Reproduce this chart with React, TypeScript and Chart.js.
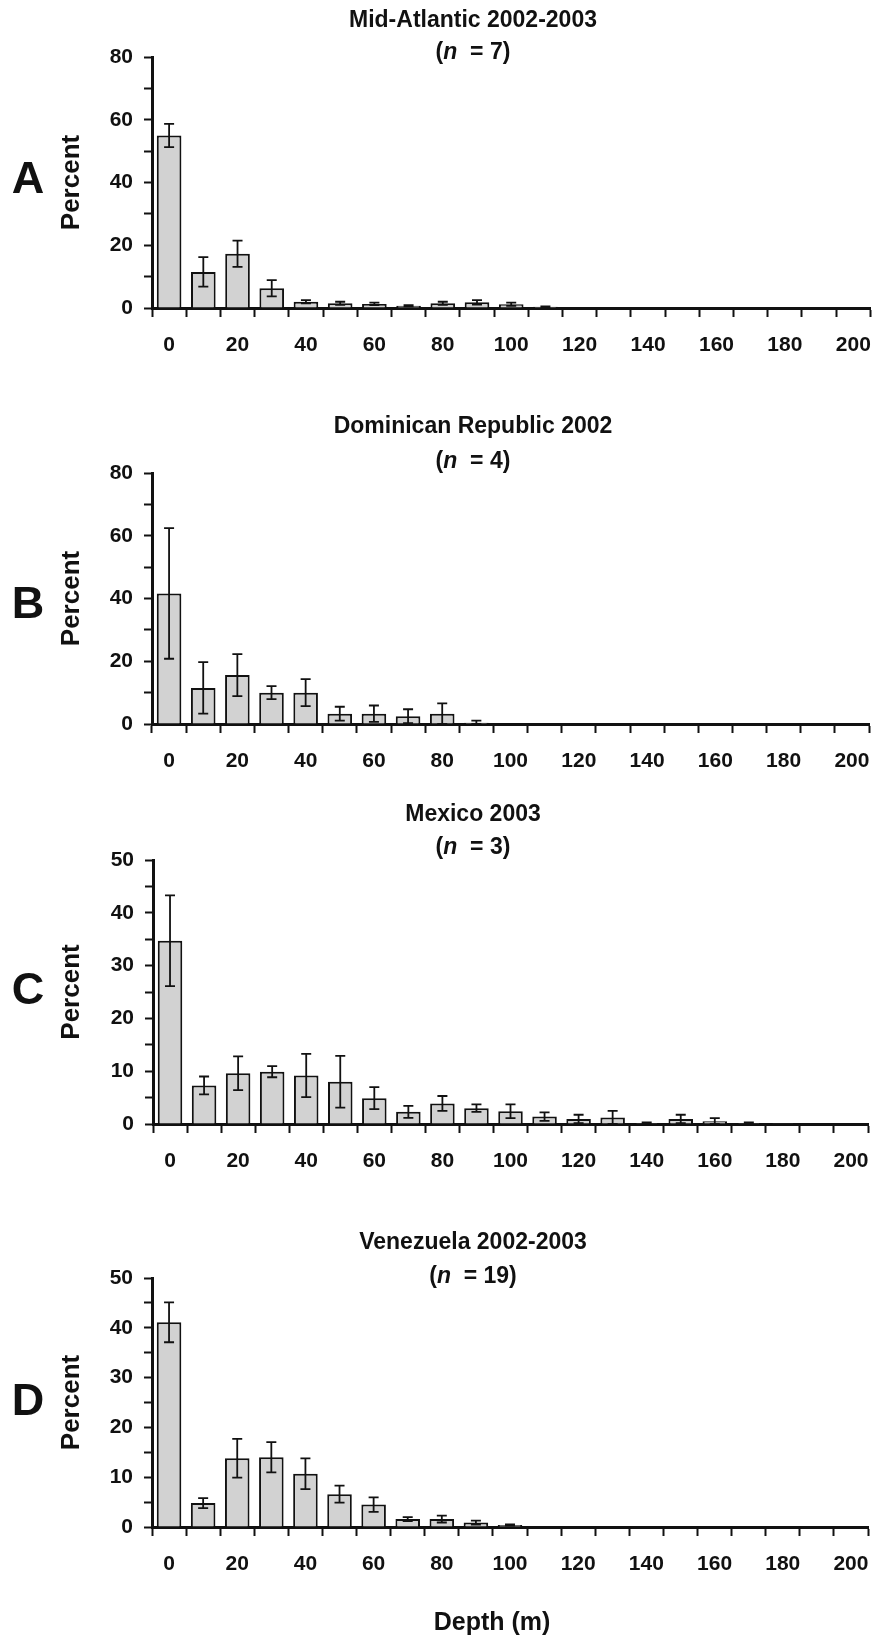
import React, { useEffect, useRef } from 'react';
import { Chart, registerables } from 'chart.js';

Chart.register(...registerables);

// ---- data ----
const depthLabels = ['0', '10', '20', '30', '40', '50', '60', '70', '80', '90', '100', '110', '120', '130', '140', '150', '160', '170', '180', '190', '200'];
const xTickLabels = ['0', '20', '40', '60', '80', '100', '120', '140', '160', '180', '200'];

const midAtlanticValues = [55.0, 11.5, 17.3, 6.3, 2.0, 1.5, 1.3, 0.7, 1.5, 1.8, 1.2, 0.4, 0, 0, 0, 0, 0, 0, 0, 0, 0];
const midAtlanticErrors = [3.7, 4.7, 4.2, 2.6, 0.5, 0.5, 0.4, 0.2, 0.5, 0.7, 0.5, 0.1, 0, 0, 0, 0, 0, 0, 0, 0, 0];

const dominicanValues = [41.6, 11.5, 15.6, 10.0, 10.0, 3.3, 3.3, 2.5, 3.3, 0.4, 0.2, 0, 0, 0, 0, 0, 0, 0, 0, 0, 0];
const dominicanErrors = [20.8, 8.2, 6.7, 2.1, 4.3, 2.2, 2.6, 2.2, 3.3, 0.7, 0, 0, 0, 0, 0, 0, 0, 0, 0, 0, 0];

const mexicoValues = [34.7, 7.3, 9.6, 9.9, 9.2, 8.0, 4.9, 2.3, 3.9, 3.0, 2.4, 1.4, 0.95, 1.25, 0.2, 0.95, 0.5, 0.2, 0.15, 0, 0];
const mexicoErrors = [8.6, 1.7, 3.2, 1.05, 4.1, 4.9, 2.1, 1.15, 1.4, 0.7, 1.3, 0.8, 0.8, 1.25, 0.1, 0.8, 0.6, 0.1, 0, 0, 0];

const venezuelaValues = [41.1, 4.8, 13.8, 14.0, 10.7, 6.6, 4.5, 1.6, 1.6, 0.9, 0.4, 0, 0, 0, 0, 0, 0, 0, 0, 0, 0];
const venezuelaErrors = [4.0, 1.0, 3.9, 3.05, 3.1, 1.7, 1.45, 0.4, 0.7, 0.4, 0.1, 0, 0, 0, 0, 0, 0, 0, 0, 0, 0];

const panelLetters = ['A', 'B', 'C', 'D'];
const panelTitles = ['Mid-Atlantic 2002-2003', 'Dominican Republic 2002', 'Mexico 2003', 'Venezuela 2002-2003'];
const panelN = ['7', '4', '3', '19'];
const yAxisTitle = 'Percent';
const xAxisTitle = 'Depth (m)';

// ---- layout (styles) ----
const INK = '#111111';
const BAR_FILL = '#d2d2d2';
const TITLE_FONT = '"Liberation Sans", Arial, sans-serif';
const TICK_FONT = '"Liberation Sans", Arial, sans-serif';

type Panel = {
  values: number[];
  errors: number[];
  yMax: number;
  step: number;
  labelStep: number;
  height: number;
  pad: { top: number; bottom: number; left: number; right: number };
  titleY: number;
  nY: number;
  letterY: number;
  showXTitle: boolean;
  xTitleY: number;
};

const panels: Panel[] = [
  { values: midAtlanticValues, errors: midAtlanticErrors, yMax: 80, step: 10, labelStep: 20, height: 380,
    pad: { top: 57, bottom: 12, left: 72, right: 7 }, titleY: 21, nY: 53, letterY: 181, showXTitle: false, xTitleY: 0 },
  { values: dominicanValues, errors: dominicanErrors, yMax: 80, step: 10, labelStep: 20, height: 410,
    pad: { top: 93, bottom: 6, left: 72, right: 18 }, titleY: 47, nY: 82, letterY: 226, showXTitle: false, xTitleY: 0 },
  { values: mexicoValues, errors: mexicoErrors, yMax: 50, step: 5, labelStep: 10, height: 410,
    pad: { top: 70, bottom: 16, left: 73, right: 19 }, titleY: 25, nY: 58, letterY: 202, showXTitle: false, xTitleY: 0 },
  { values: venezuelaValues, errors: venezuelaErrors, yMax: 50, step: 5, labelStep: 10, height: 441,
    pad: { top: 78, bottom: 54, left: 72, right: 19 }, titleY: 43, nY: 77, letterY: 203, showXTitle: true, xTitleY: 423 },
];

const errorBarPlugin = {
  id: 'errorBars',
  afterDatasetsDraw(chart: any, _args: any, opts: any) {
    const errs: number[] = opts.errors || [];
    const meta = chart.getDatasetMeta(0);
    const vals = chart.data.datasets[0].data as number[];
    const ys = chart.scales.y;
    const ctx = chart.ctx as CanvasRenderingContext2D;
    ctx.save();
    ctx.strokeStyle = INK;
    ctx.lineWidth = 1.8;
    meta.data.forEach((bar: any, i: number) => {
      const e = errs[i];
      if (!e) return;
      const v = vals[i];
      const x = bar.x;
      const yt = ys.getPixelForValue(v + e);
      const yb = ys.getPixelForValue(Math.max(0, v - e));
      const cap = 5;
      ctx.beginPath();
      ctx.moveTo(x, yt);
      ctx.lineTo(x, yb);
      ctx.moveTo(x - cap, yt);
      ctx.lineTo(x + cap, yt);
      ctx.moveTo(x - cap, yb);
      ctx.lineTo(x + cap, yb);
      ctx.stroke();
    });
    ctx.restore();
  },
};

const textPlugin = {
  id: 'panelText',
  afterDraw(chart: any, _args: any, opts: any) {
    const ctx = chart.ctx as CanvasRenderingContext2D;
    const area = chart.chartArea;
    const cx = 473;
    ctx.save();
    ctx.fillStyle = INK;
    ctx.textBaseline = 'middle';

    // panel letter
    ctx.textAlign = 'center';
    ctx.font = `bold 45px ${TITLE_FONT}`;
    ctx.fillText(opts.letter, 28, opts.letterY);

    // title
    ctx.font = `bold 23px ${TITLE_FONT}`;
    ctx.fillText(opts.title, cx, opts.titleY);

    // (n = X)
    const parts: [string, string][] = [
      ['(', `bold 23px ${TITLE_FONT}`],
      ['n', `italic bold 23px ${TITLE_FONT}`],
      ['  = ' + opts.n + ')', `bold 23px ${TITLE_FONT}`],
    ];
    let total = 0;
    const widths = parts.map(([t, f]) => {
      ctx.font = f;
      const w = ctx.measureText(t).width;
      total += w;
      return w;
    });
    let x = cx - total / 2;
    ctx.textAlign = 'left';
    parts.forEach(([t, f], i) => {
      ctx.font = f;
      ctx.fillText(t, x, opts.nY);
      x += widths[i];
    });

    // y axis title
    ctx.save();
    ctx.translate(72, (area.top + area.bottom) / 2);
    ctx.rotate(-Math.PI / 2);
    ctx.textAlign = 'center';
    ctx.font = `bold 26px ${TITLE_FONT}`;
    ctx.fillText(yAxisTitle, 0, 0);
    ctx.restore();

    if (opts.showXTitle) {
      ctx.textAlign = 'center';
      ctx.font = `bold 25px ${TITLE_FONT}`;
      ctx.fillText(xAxisTitle, 492, opts.xTitleY);
    }
    ctx.restore();
  },
};

function PanelChart({ panel, index }: { panel: Panel; index: number }) {
  const ref = useRef<HTMLCanvasElement | null>(null);
  useEffect(() => {
    if (!ref.current) return;
    const chart = new Chart(ref.current, {
      type: 'bar',
      data: {
        labels: depthLabels,
        datasets: [
          {
            data: panel.values,
            backgroundColor: BAR_FILL,
            borderColor: INK,
            borderWidth: 2,
            barPercentage: 0.72,
            categoryPercentage: 1,
          },
        ],
      },
      options: {
        animation: false,
        responsive: false,
        events: [],
        layout: { padding: panel.pad },
        plugins: {
          legend: { display: false },
          title: { display: false },
          tooltip: { enabled: false },
          errorBars: { errors: panel.errors },
          panelText: {
            letter: panelLetters[index],
            letterY: panel.letterY,
            title: panelTitles[index],
            titleY: panel.titleY,
            n: panelN[index],
            nY: panel.nY,
            showXTitle: panel.showXTitle,
            xTitleY: panel.xTitleY,
          },
        } as any,
        scales: {
          x: {
            type: 'category',
            ticks: {
              autoSkip: false,
              maxRotation: 0,
              minRotation: 0,
              padding: 16,
              color: INK,
              font: { family: TICK_FONT, weight: 'bold', size: 21 },
              callback: (_v: any, i: number) => (xTickLabels.includes(depthLabels[i]) ? depthLabels[i] : ''),
            },
            grid: {
              offset: true,
              drawOnChartArea: false,
              drawTicks: true,
              tickLength: 9,
              tickColor: INK,
              tickWidth: 2,
            },
            border: { display: true, color: INK, width: 3 },
            afterFit: (s: any) => {
              s.height = 60;
            },
          },
          y: {
            min: 0,
            max: panel.yMax,
            ticks: {
              stepSize: panel.step,
              padding: 11,
              color: INK,
              autoSkip: false,
              font: { family: TICK_FONT, weight: 'bold', size: 21 },
              callback: (v: any) => (Number(v) % panel.labelStep === 0 ? String(v) : ''),
            },
            grid: {
              drawOnChartArea: false,
              drawTicks: true,
              tickLength: 8,
              tickColor: INK,
              tickWidth: 2,
            },
            border: { display: true, color: INK, width: 3 },
            afterFit: (s: any) => {
              s.width = 80;
            },
          },
        },
      } as any,
      plugins: [errorBarPlugin, textPlugin],
    });
    return () => chart.destroy();
  }, [panel, index]);
  return <canvas ref={ref} width={887} height={panel.height} style={{ display: 'block', width: 887, height: panel.height }} />;
}

export default function App() {
  useEffect(() => {
    document.body.style.margin = '0';
    document.body.style.background = '#ffffff';
  }, []);
  return (
    <div style={{ width: 887, background: '#fff' }}>
      {panels.map((p, i) => (
        <PanelChart key={i} panel={p} index={i} />
      ))}
    </div>
  );
}
